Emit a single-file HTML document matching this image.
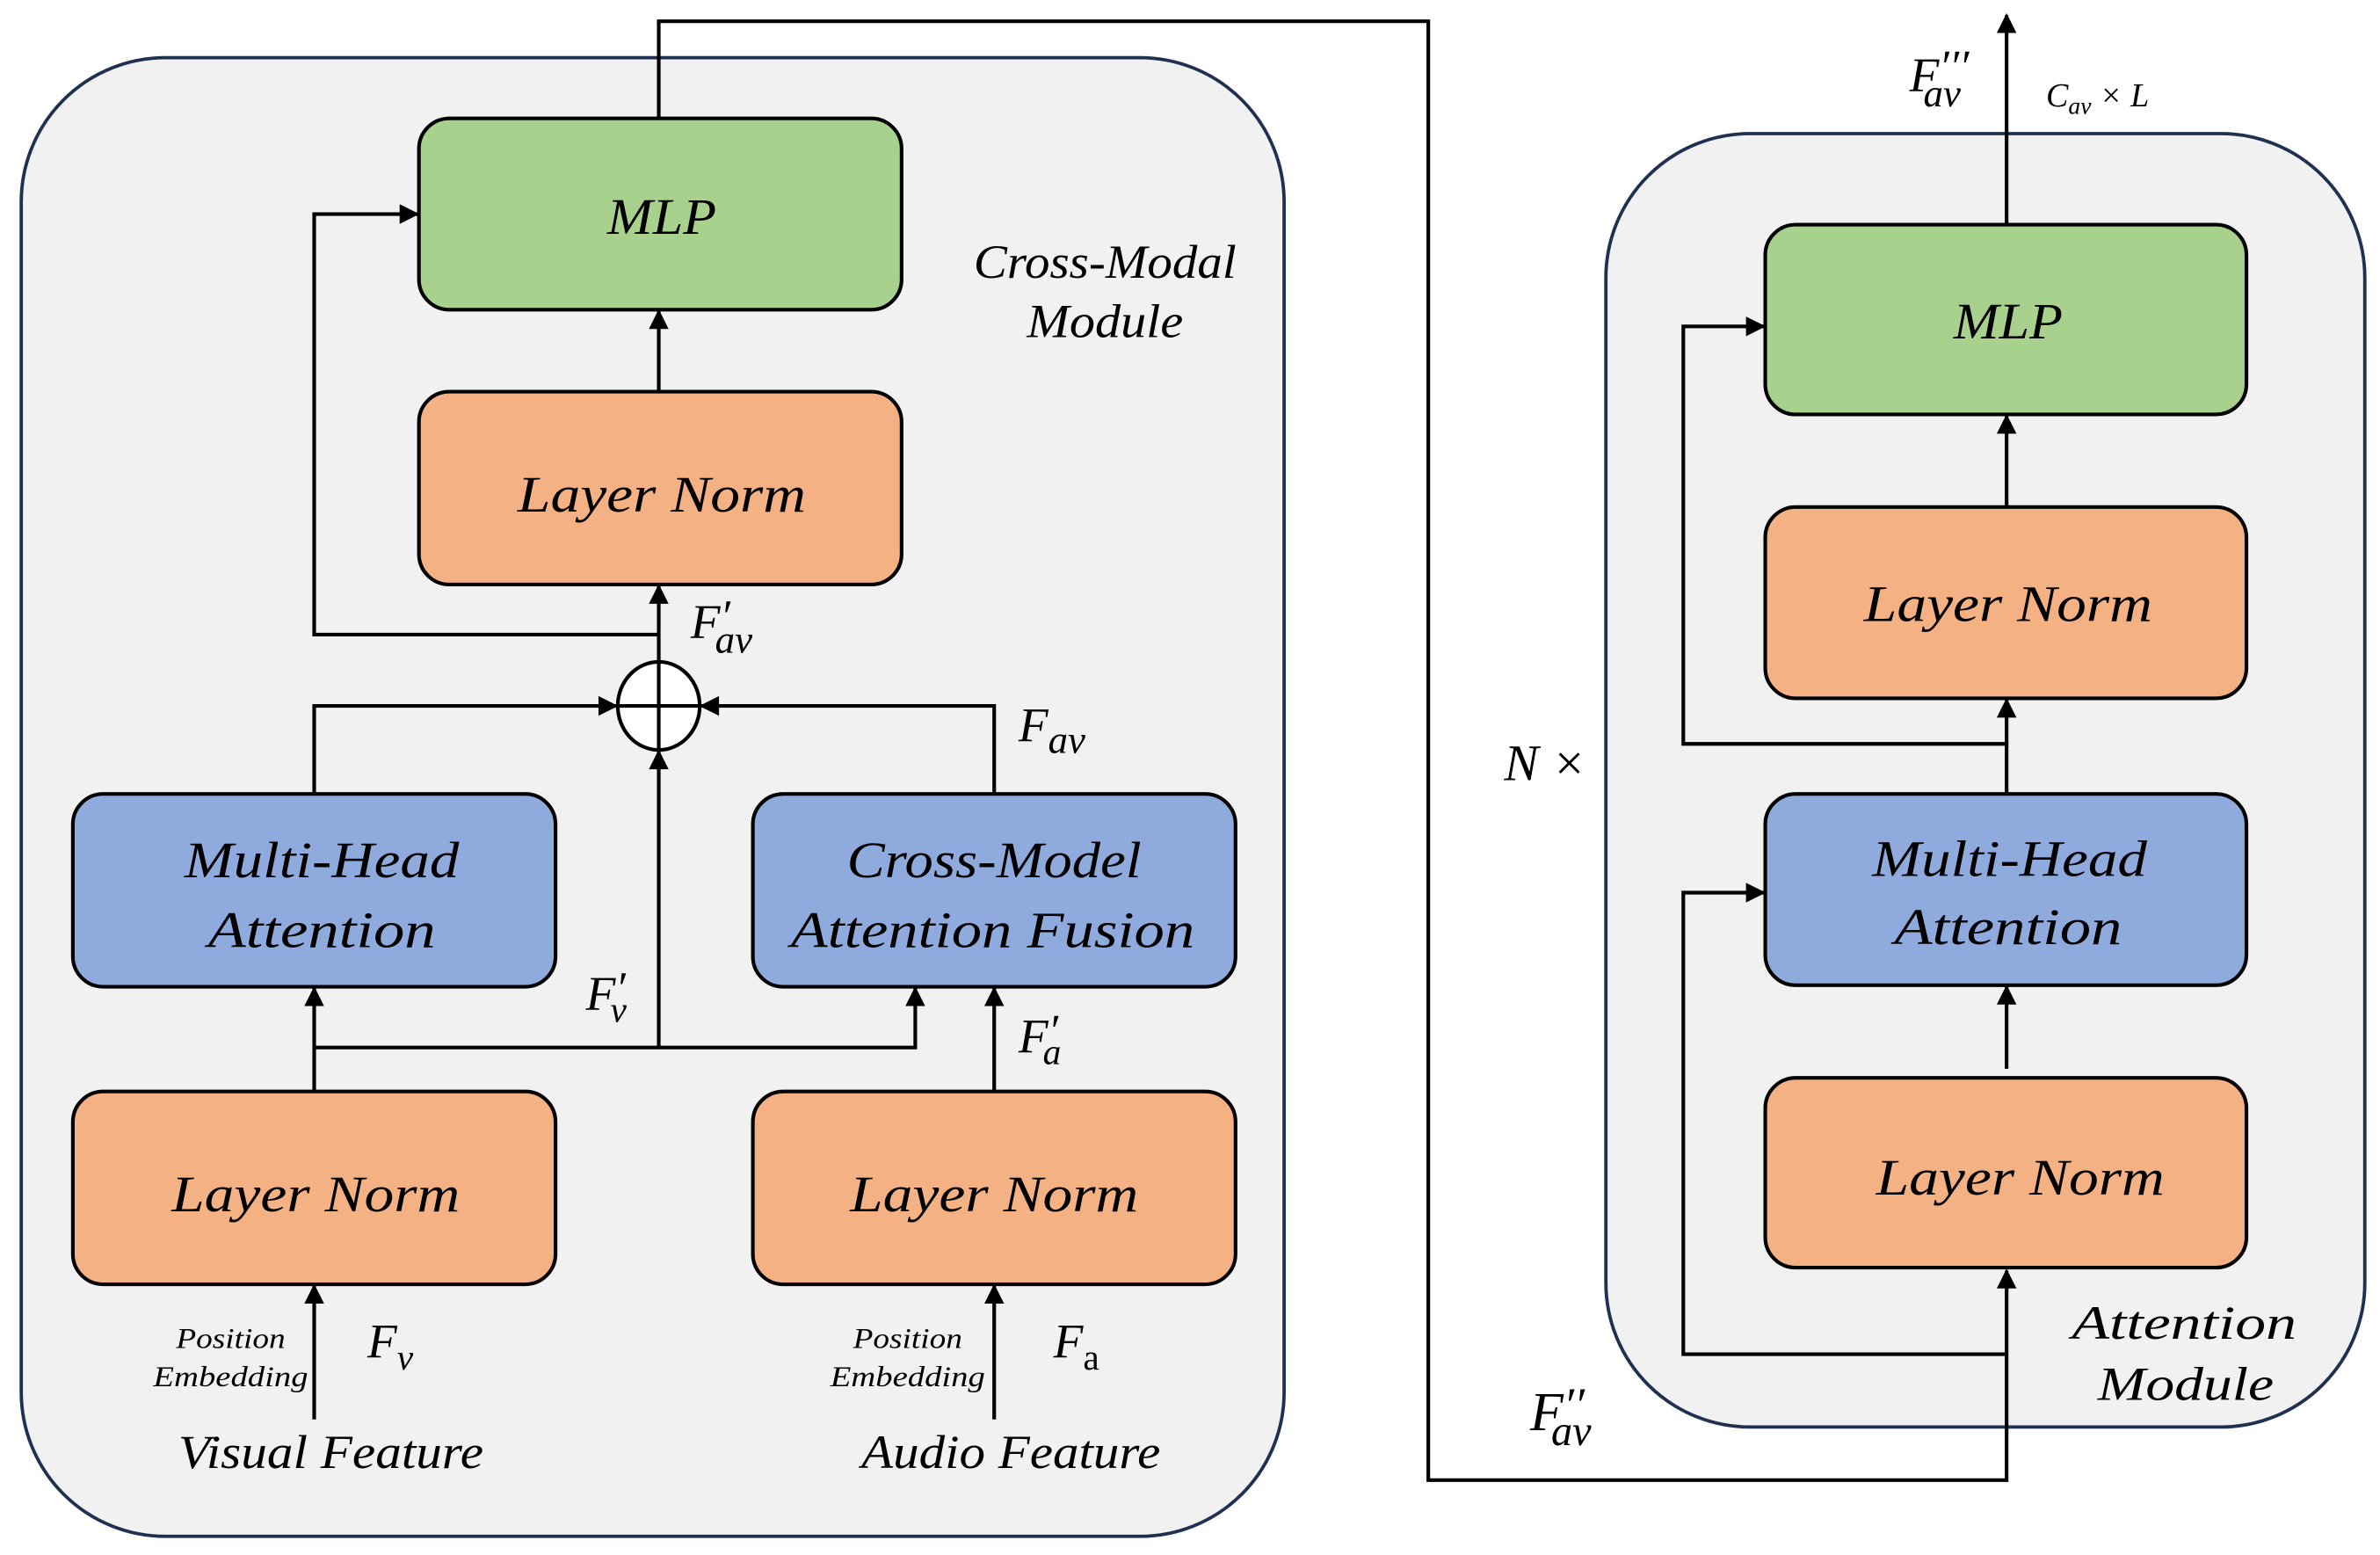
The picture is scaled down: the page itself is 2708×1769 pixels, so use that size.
<!DOCTYPE html>
<html><head><meta charset="utf-8"><style>
html,body{margin:0;padding:0;background:#fff;}
svg{display:block;}
text{font-family:"Liberation Serif",serif;font-style:italic;fill:#000;}
</style></head><body>
<svg width="2708" height="1769" viewBox="0 0 1568 1024.3" preserveAspectRatio="none" xmlns="http://www.w3.org/2000/svg">
<defs>
<marker id="a" viewBox="0 0 10 10" refX="9" refY="5" markerWidth="16" markerHeight="13" orient="auto" markerUnits="userSpaceOnUse">
<path d="M0,0 L10,5 L0,10 z" fill="#000"/></marker>
</defs>
<g fill="#f1f1f1" stroke="#1f3050" stroke-width="2.2">
<rect x="14" y="38" width="832" height="974" rx="95" ry="95"/>
<rect x="1058" y="88" width="500" height="852" rx="95" ry="95"/>
</g>
<g stroke="#000" stroke-width="2.4">
<rect x="276" y="78" width="318" height="126" rx="20" fill="#a9d18e"/>
<rect x="276" y="258" width="318" height="127" rx="20" fill="#f4b183"/>
<rect x="48" y="523" width="318" height="127" rx="20" fill="#8faadc"/>
<rect x="496" y="523" width="318" height="127" rx="20" fill="#8faadc"/>
<rect x="48" y="719" width="318" height="127" rx="20" fill="#f4b183"/>
<rect x="496" y="719" width="318" height="127" rx="20" fill="#f4b183"/>
<rect x="1163" y="148" width="317" height="125" rx="20" fill="#a9d18e"/>
<rect x="1163" y="334" width="317" height="126" rx="20" fill="#f4b183"/>
<rect x="1163" y="523" width="317" height="126" rx="20" fill="#8faadc"/>
<rect x="1163" y="710" width="317" height="125" rx="20" fill="#f4b183"/>
<ellipse cx="434" cy="465" rx="27" ry="29" fill="#fff"/>
<line x1="407" y1="465" x2="461" y2="465"/>
<line x1="434" y1="436" x2="434" y2="494"/>
</g>
<g stroke="#000" stroke-width="2.4" fill="none">
<polyline points="434,78 434,14 941,14 941,975 1322,975 1322,837" marker-end="url(#a)"/>
<line x1="434" y1="258" x2="434" y2="205" marker-end="url(#a)"/>
<line x1="434" y1="436" x2="434" y2="386" marker-end="url(#a)"/>
<polyline points="434,418 207,418 207,141 275,141" marker-end="url(#a)"/>
<polyline points="207,523 207,465 406,465" marker-end="url(#a)"/>
<polyline points="655,523 655,465 462,465" marker-end="url(#a)"/>
<line x1="207" y1="719" x2="207" y2="651" marker-end="url(#a)"/>
<polyline points="207,690 603,690 603,651" marker-end="url(#a)"/>
<line x1="434" y1="690" x2="434" y2="495" marker-end="url(#a)"/>
<line x1="655" y1="719" x2="655" y2="651" marker-end="url(#a)"/>
<line x1="207" y1="935" x2="207" y2="847" marker-end="url(#a)"/>
<line x1="655" y1="935" x2="655" y2="847" marker-end="url(#a)"/>
<line x1="1322" y1="148" x2="1322" y2="10" marker-end="url(#a)"/>
<line x1="1322" y1="334" x2="1322" y2="274" marker-end="url(#a)"/>
<line x1="1322" y1="523" x2="1322" y2="461" marker-end="url(#a)"/>
<polyline points="1322,490 1109,490 1109,215 1162,215" marker-end="url(#a)"/>
<line x1="1322" y1="704" x2="1322" y2="650" marker-end="url(#a)"/>
<polyline points="1322,892 1109,892 1109,588 1162,588" marker-end="url(#a)"/>
</g>
<g font-size="34" text-anchor="middle">
<text x="436" y="154" textLength="72" lengthAdjust="spacingAndGlyphs">MLP</text>
<text x="436" y="337" textLength="190" lengthAdjust="spacingAndGlyphs">Layer Norm</text>
<text x="212" y="578" textLength="181" lengthAdjust="spacingAndGlyphs">Multi-Head</text>
<text x="212" y="624" textLength="150" lengthAdjust="spacingAndGlyphs">Attention</text>
<text x="655" y="578" textLength="194" lengthAdjust="spacingAndGlyphs">Cross-Model</text>
<text x="654" y="624" textLength="266" lengthAdjust="spacingAndGlyphs">Attention Fusion</text>
<text x="208" y="798" textLength="190" lengthAdjust="spacingAndGlyphs">Layer Norm</text>
<text x="655" y="798" textLength="190" lengthAdjust="spacingAndGlyphs">Layer Norm</text>
<text x="1323" y="223" textLength="72" lengthAdjust="spacingAndGlyphs">MLP</text>
<text x="1323" y="409" textLength="190" lengthAdjust="spacingAndGlyphs">Layer Norm</text>
<text x="1324" y="577" textLength="181" lengthAdjust="spacingAndGlyphs">Multi-Head</text>
<text x="1323" y="622" textLength="150" lengthAdjust="spacingAndGlyphs">Attention</text>
<text x="1331" y="787" textLength="190" lengthAdjust="spacingAndGlyphs">Layer Norm</text>
</g>
<g font-size="31" text-anchor="middle">
<text x="218" y="967" textLength="201" lengthAdjust="spacingAndGlyphs">Visual Feature</text>
<text x="666" y="967" textLength="197" lengthAdjust="spacingAndGlyphs">Audio Feature</text>
<text x="728" y="183" textLength="173" lengthAdjust="spacingAndGlyphs">Cross-Modal</text>
<text x="728" y="222" textLength="103" lengthAdjust="spacingAndGlyphs">Module</text>
<text x="1439" y="882" textLength="148" lengthAdjust="spacingAndGlyphs">Attention</text>
<text x="1440" y="922" textLength="116" lengthAdjust="spacingAndGlyphs">Module</text>
<text x="1018" y="514" font-size="34">N ×</text>
</g>
<g font-size="19" text-anchor="middle">
<text x="152" y="888" textLength="72" lengthAdjust="spacingAndGlyphs">Position</text>
<text x="152" y="913" textLength="102" lengthAdjust="spacingAndGlyphs">Embedding</text>
<text x="598" y="888" textLength="72" lengthAdjust="spacingAndGlyphs">Position</text>
<text x="598" y="913" textLength="102" lengthAdjust="spacingAndGlyphs">Embedding</text>
</g>
<g font-size="32">
<text x="242" y="894">F<tspan font-size="24" dy="8">v</tspan></text>
<text x="694" y="894">F<tspan font-size="24" dy="8" font-style="normal">a</tspan></text>
<text x="386" y="665">F<tspan font-size="30" dy="-4">′</tspan><tspan font-size="24" dx="-10" dy="12">v</tspan></text>
<text x="671" y="693">F<tspan font-size="30" dy="-4">′</tspan><tspan font-size="24" dx="-10" dy="12">a</tspan></text>
<text x="671" y="488">F<tspan font-size="26" dy="8">av</tspan></text>
<text x="455" y="420">F<tspan font-size="30" dy="-4">′</tspan><tspan font-size="26" dx="-10" dy="14">av</tspan></text>
<text x="1258" y="60">F<tspan font-size="30" dy="-6">′′′</tspan><tspan font-size="26" dx="-30" dy="16">av</tspan></text>
<text x="1008" y="942" font-size="36">F<tspan font-size="32" dy="-6">′′</tspan><tspan font-size="28" dx="-22" dy="16">av</tspan></text>
<text x="1348" y="70" font-size="22">C<tspan font-size="16" dy="5">av</tspan><tspan dy="-5"> ×  L</tspan></text>
</g>
</svg>
</body></html>
